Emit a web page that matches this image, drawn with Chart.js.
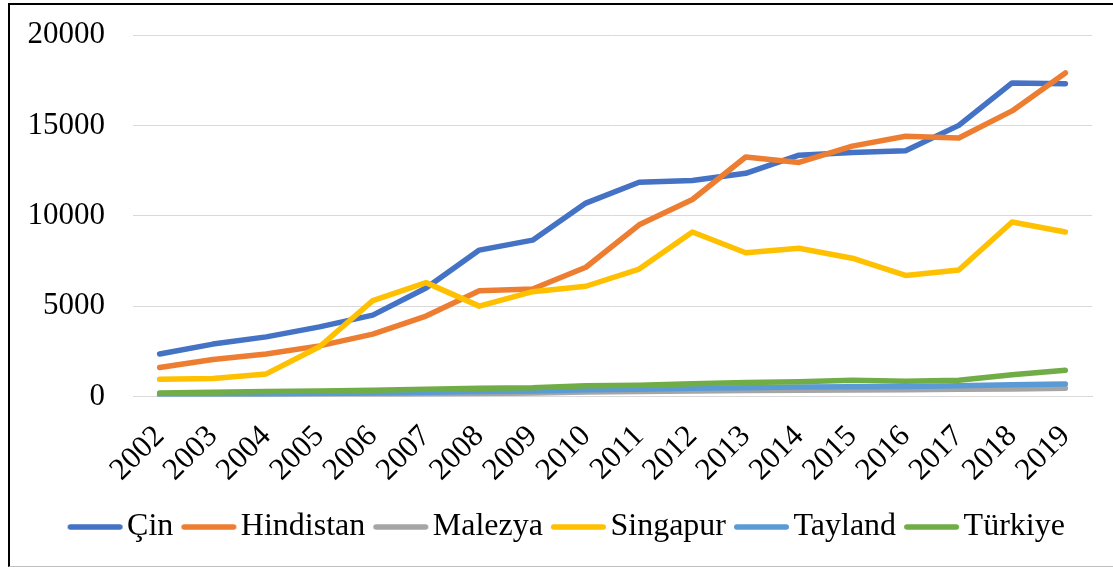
<!DOCTYPE html>
<html>
<head>
<meta charset="utf-8">
<script src="https://cdn.jsdelivr.net/npm/chart.js@4"></script>
<style>
  html, body { margin: 0; padding: 0; background: #fff; }
  #wrap {
    position: absolute; left: 8px; top: 3px; width: 1105px; height: 564px;
    box-sizing: border-box;
    border-top: 2px solid #000; border-left: 2px solid #000; border-bottom: 1px solid #bfbfbf;
  }
</style>
</head>
<body>
<div id="wrap"><canvas id="chart"></canvas></div>
<script>
const years = ['2002', '2003', '2004', '2005', '2006', '2007', '2008', '2009', '2010',
               '2011', '2012', '2013', '2014', '2015', '2016', '2017', '2018', '2019'];

const cin       = [2350, 2900, 3300, 3850, 4500, 6000, 8100, 8650, 10700, 11850, 11950, 12350, 13350, 13500, 13600, 15000, 17350, 17300];
const hindistan = [1600, 2050, 2350, 2800, 3450, 4450, 5850, 5950, 7150, 9500, 10900, 13250, 12950, 13850, 14400, 14300, 15800, 17900];
const malezya   = [50, 60, 70, 90, 110, 140, 170, 200, 250, 270, 300, 330, 350, 360, 380, 400, 420, 460];
const singapur  = [950, 1000, 1250, 2750, 5300, 6300, 5000, 5800, 6100, 7050, 9100, 7950, 8200, 7650, 6700, 7000, 9650, 9100];
const tayland   = [100, 110, 130, 160, 190, 230, 270, 300, 380, 400, 450, 480, 520, 540, 560, 600, 650, 690];
const turkiye   = [190, 230, 270, 300, 350, 400, 450, 480, 600, 620, 700, 780, 820, 900, 850, 900, 1200, 1450];

const yTicks = [0, 5000, 10000, 15000, 20000];

Chart.defaults.font.family = "'Liberation Serif', 'Times New Roman', serif";
Chart.defaults.font.size = 31;
Chart.defaults.color = '#000';

// Excel draws later series on top, so the list goes in reverse and the legend is flipped back
const series = [
    { label: 'Türkiye',   data: turkiye,   color: '#70AD47' },
    { label: 'Tayland',   data: tayland,   color: '#5B9BD5' },
    { label: 'Singapur',  data: singapur,  color: '#FFC000' },
    { label: 'Malezya',   data: malezya,   color: '#A5A5A5' },
    { label: 'Hindistan', data: hindistan, color: '#ED7D31' },
    { label: 'Çin',       data: cin,       color: '#4472C4' }
];

// legend swatch: a short thick line sitting close to its label (Excel style)
const BOX_W = 40;
function legendLine(color) {
    const c = document.createElement('canvas');
    c.width = 65;
    c.height = 8;
    const g = c.getContext('2d');
    g.strokeStyle = color;
    g.lineWidth = 5.5;
    g.lineCap = 'round';
    g.beginPath();
    g.moveTo(11.75, 4);
    g.lineTo(61.25, 4);
    g.stroke();
    return c;
}

// the legend in the original is centred on the whole frame, not on the plot
const legendShift = {
    id: 'legendShift',
    afterLayout: function (chart) {
        chart.legend.left += 17;
        chart.legend.right += 17;
    }
};

const ctx = document.getElementById('chart').getContext('2d');
new Chart(ctx, {
    type: 'line',
    data: {
        labels: years,
        datasets: series.map(function (s) {
            return {
                label: s.label,
                data: s.data,
                borderColor: s.color,
                backgroundColor: s.color,
                borderWidth: 5.5,
                borderCapStyle: 'round',
                borderJoinStyle: 'round',
                pointRadius: 0,
                tension: 0,
                fill: false
            };
        })
    },
    options: {
        responsive: true,
        maintainAspectRatio: false,
        animation: false,
        layout: {
            padding: { left: 0, right: 21, top: 30, bottom: 13 }
        },
        scales: {
            x: {
                offset: true,
                // invisible tick marks give the gap under the axis without padding the chart area
                grid: { display: false, drawTicks: true, tickLength: 22, tickColor: 'rgba(0,0,0,0)' },
                border: { display: true, color: '#d9d9d9', width: 1 },
                ticks: {
                    minRotation: 45,
                    maxRotation: 45,
                    autoSkip: false,
                    padding: 0
                },
                afterFit: function (scale) {
                    scale.height = 103;
                }
            },
            y: {
                min: 0,
                max: 20000,
                afterBuildTicks: function (scale) {
                    scale.ticks = yTicks.map(function (v) { return { value: v }; });
                },
                afterFit: function (scale) {
                    scale.width = 123;
                },
                grid: { color: '#d9d9d9', lineWidth: 1, drawTicks: true, tickLength: 28, tickColor: 'rgba(0,0,0,0)' },
                border: { display: false },
                ticks: {
                    padding: 0,
                    callback: function (value) {
                        return String(value);
                    }
                }
            }
        },
        plugins: {
            legend: {
                position: 'bottom',
                reverse: true,
                labels: {
                    font: { size: 32 },
                    usePointStyle: true,
                    pointStyleWidth: BOX_W,
                    padding: 11.5,
                    generateLabels: function (chart) {
                        const items = Chart.defaults.plugins.legend.labels.generateLabels(chart);
                        items.forEach(function (item) {
                            item.pointStyle = legendLine(item.strokeStyle);
                        });
                        return items;
                    }
                }
            },
            tooltip: { enabled: false }
        }
    },
    plugins: [legendShift]
});
</script>
</body>
</html>
